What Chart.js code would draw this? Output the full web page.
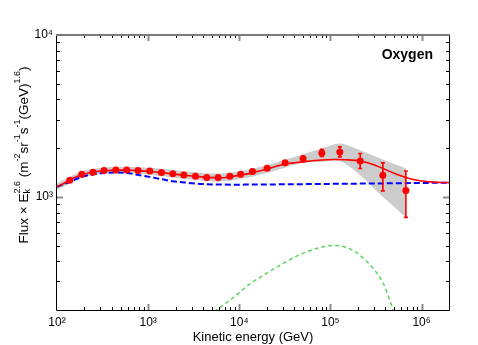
<!DOCTYPE html>
<html><head><meta charset="utf-8">
<script src="https://cdn.jsdelivr.net/npm/chart.js@4/dist/chart.umd.min.js"></script>
<style>html,body{margin:0;padding:0;background:#fff}#wrap{width:478px;height:345px;position:relative}</style>
</head><body><div id="wrap"><canvas id="c"></canvas></div>
<script>
// Measured data points (kinetic energy in GeV, flux x E^2.6)
const energies = [138,187,248,328,441,582,774,1042,1400,1862,2461,3306,4395,5850,7870,10370,13960,20200,31800,50100,80500,126800,212000,376000,673000];
const flux     = [1267,1380,1420,1455,1468,1468,1455,1443,1415,1387,1367,1342,1318,1318,1342,1380,1435,1503,1622,1726,1869,1896,1667,1361,1095];
const fluxErrLow  = [1250,1362,1401,1436,1449,1449,1436,1424,1396,1368,1348,1323,1299,1298,1321,1357,1410,1475,1590,1690,1774,1765,1496,1089,747];
const fluxErrHigh = [1284,1398,1439,1474,1487,1487,1474,1462,1434,1406,1386,1361,1337,1338,1363,1403,1460,1531,1655,1763,1968,2036,1853,1622,1446];

// Total model (red solid)
const modelE     = [100,120,138,160,187,220,250,330,440,580,770,1040,1400,1860,2460,3300,4400,5850,7870,10370,13960,20200,31800,50100,80000,110000,150000,212000,300000,376000,500000,673000,900000,1230000,1600000,2000000];
const modelTotal = [1153,1215,1267,1325,1370,1405,1425,1450,1462,1462,1452,1435,1412,1386,1361,1340,1320,1312,1328,1365,1407,1488,1595,1645,1688,1700,1695,1667,1580,1497,1400,1318,1265,1238,1228,1225];

// Background component (blue dashed)
const bgE    = [100,138,187,250,330,440,580,770,1040,1400,1860,2500,4400,10000,30000,100000,1000000,2000000];
const bgFlux = [1153,1240,1329,1380,1406,1415,1406,1367,1329,1286,1250,1227,1197,1190,1195,1203,1218,1225];

// Extra component (green dashed)
const compE    = [4000,5630,8550,13000,19900,30300,46100,70300,107000,150000,210000,295000,380000,488000,600000];
const compFlux = [173,200,238,289,337,388,439,480,501,487,436,361,292,200,146];

// Uncertainty band (grey)
const bandE    = [100,138,187,250,330,440,580,770,1040,1400,1860,2460,3300,4400,5850,7870,10370,13960,20200,31800,50100,80500,126800,212000,376000,673000];
const bandHigh = [1205,1325,1440,1490,1520,1535,1535,1525,1512,1490,1465,1440,1420,1398,1393,1410,1445,1492,1575,1690,1833,1990,2137,1941,1700,1497];
const bandLow  = [1105,1210,1312,1358,1388,1398,1398,1388,1372,1345,1318,1293,1272,1252,1242,1258,1292,1333,1408,1515,1630,1644,1667,1361,1000,746];

const xTickValues = [1e2,1e3,1e4,1e5,1e6];
const xTickLabels = ['10²','10³','10⁴','10⁵','10⁶'];
const yTickValues = [1e3,1e4];
const yTickLabels = ['10³','10⁴'];
const xTitle = 'Kinetic energy (GeV)';
const panelLabel = 'Oxygen';

const FONT = "'Liberation Sans', Arial, Helvetica, sans-serif";
const pts = (xs, ys) => xs.map((x, i) => ({x: x, y: ys[i]}));

const errorBars = {
  id: 'errorBars',
  afterDatasetsDraw(chart) {
    const ctx = chart.ctx, xs = chart.scales.x, ys = chart.scales.y;
    ctx.save();
    ctx.strokeStyle = '#ff0000';
    ctx.lineWidth = 1.6;
    energies.forEach((e, i) => {
      const px = xs.getPixelForValue(e);
      const y1 = ys.getPixelForValue(fluxErrLow[i]);
      const y2 = ys.getPixelForValue(fluxErrHigh[i]);
      ctx.beginPath();
      ctx.moveTo(px, y1); ctx.lineTo(px, y2);
      ctx.moveTo(px - 2, y1); ctx.lineTo(px + 2, y1);
      ctx.moveTo(px - 2, y2); ctx.lineTo(px + 2, y2);
      ctx.stroke();
    });
    ctx.restore();
  }
};

const frameAndText = {
  id: 'frameAndText',
  afterDraw(chart) {
    const ctx = chart.ctx, a = chart.chartArea, xs = chart.scales.x, ys = chart.scales.y;
    ctx.save();
    for (let d = 2; d <= 6; d++) {
      for (let m = 1; m <= 9; m++) {
        const v = m * Math.pow(10, d);
        if (v <= 100 || v >= 2e6) continue;
        const px = Math.round(xs.getPixelForValue(v)) + 0.5;
        const major = m === 1;
        ctx.strokeStyle = major ? '#8c8c8c' : '#000';
        ctx.lineWidth = major ? 2 : 1;
        const L = major ? 6 : 3;
        ctx.beginPath();
        ctx.moveTo(px, a.bottom); ctx.lineTo(px, a.bottom - L);
        ctx.moveTo(px, a.top); ctx.lineTo(px, a.top + L);
        ctx.stroke();
      }
    }
    for (let d = 2; d <= 3; d++) {
      for (let m = 1; m <= 9; m++) {
        const v = m * Math.pow(10, d);
        if (v <= 200 || v >= 1e4) continue;
        const py = Math.round(ys.getPixelForValue(v)) + 0.5;
        const major = m === 1;
        ctx.strokeStyle = major ? '#8c8c8c' : '#000';
        ctx.lineWidth = major ? 2 : 1;
        const L = major ? 6 : 3;
        ctx.beginPath();
        ctx.moveTo(a.left, py); ctx.lineTo(a.left + L, py);
        ctx.moveTo(a.right, py); ctx.lineTo(a.right - L, py);
        ctx.stroke();
      }
    }
    ctx.strokeStyle = '#000';
    ctx.lineWidth = 1;
    ctx.beginPath();
    ctx.moveTo(Math.round(a.left) - 0.5, Math.round(a.top));
    ctx.lineTo(Math.round(a.left) - 0.5, Math.round(a.bottom) + 0.5);
    ctx.lineTo(Math.round(a.right) + 0.5, Math.round(a.bottom) + 0.5);
    ctx.lineTo(Math.round(a.right) + 0.5, Math.round(a.top));
    ctx.stroke();
    ctx.strokeStyle = '#7a7a7a';
    ctx.lineWidth = 2;
    ctx.beginPath();
    ctx.moveTo(Math.round(a.left) - 1, Math.round(a.top));
    ctx.lineTo(Math.round(a.right) + 1, Math.round(a.top));
    ctx.stroke();
    ctx.fillStyle = '#000';
    ctx.font = 'bold 14px ' + FONT;
    ctx.textAlign = 'right';
    ctx.textBaseline = 'alphabetic';
    ctx.fillText(panelLabel, 433, 59);
    const segs = [
      {t: 'Flux × E', s: 13.5, dy: 0},
      {t: 'k', s: 9, dy: 2, stackWith: '2.6'},
      {t: ' (m', s: 13.5, dy: 0},
      {t: '-2', s: 9, dy: -8},
      {t: 'sr', s: 13.5, dy: 0},
      {t: '-1', s: 9, dy: -8},
      {t: 's', s: 13.5, dy: 0},
      {t: '-1', s: 9, dy: -8},
      {t: '(GeV)', s: 13.5, dy: 0},
      {t: '1.6', s: 9, dy: -8},
      {t: ')', s: 13.5, dy: 0}
    ];
    const w = (t, s) => { ctx.font = s + 'px ' + FONT; return ctx.measureText(t).width; };
    let total = 0;
    segs.forEach(g => {
      let ww = w(g.t, g.s);
      if (g.stackWith) ww = Math.max(ww, w(g.stackWith, 9));
      g.w = ww; total += ww;
    });
    ctx.translate(28, 155);
    ctx.rotate(-Math.PI / 2);
    ctx.textAlign = 'left';
    let x = -total / 2;
    segs.forEach(g => {
      ctx.font = g.s + 'px ' + FONT;
      ctx.fillText(g.t, x, g.dy);
      if (g.stackWith) { ctx.font = '9px ' + FONT; ctx.fillText(g.stackWith, x, -8); }
      x += g.w;
    });
    ctx.restore();
  }
};

new Chart(document.getElementById('c'), {
  type: 'line',
  data: {
    datasets: [
      {type: 'scatter', data: pts(energies, flux), showLine: false, pointRadius: 3.5, pointBackgroundColor: '#ff0000', pointBorderColor: '#ff0000', pointBorderWidth: 0},
      {data: pts(modelE, modelTotal), borderColor: '#ff0000', borderWidth: 1.6, pointRadius: 0, cubicInterpolationMode: 'monotone', fill: false},
      {data: pts(bgE, bgFlux), borderColor: '#0000ff', borderWidth: 2, borderDash: [6, 3], pointRadius: 0, cubicInterpolationMode: 'monotone', fill: false},
      {data: pts(compE, compFlux), borderColor: '#5fd35f', borderWidth: 1.5, borderDash: [4, 3], pointRadius: 0, cubicInterpolationMode: 'monotone', fill: false},
      {data: pts(bandE, bandHigh), borderWidth: 0, borderColor: 'rgba(0,0,0,0)', pointRadius: 0, fill: '+1', backgroundColor: 'rgb(204,204,204)', tension: 0.3},
      {data: pts(bandE, bandLow), borderWidth: 0, borderColor: 'rgba(0,0,0,0)', pointRadius: 0, fill: false, tension: 0.3}
    ]
  },
  options: {
    responsive: true,
    maintainAspectRatio: false,
    animation: false,
    devicePixelRatio: 1,
    layout: {padding: {top: 35, right: 29, bottom: 0, left: 0}},
    plugins: {legend: {display: false}, tooltip: {enabled: false}},
    scales: {
      x: {
        type: 'logarithmic', min: 100, max: 2e6, position: 'bottom',
        grid: {display: false, drawTicks: false},
        border: {display: false},
        afterBuildTicks: s => { s.ticks = xTickValues.map(v => ({value: v})); },
        ticks: {autoSkip: false, maxRotation: 0, color: '#000', padding: 5, font: {family: FONT, size: 12},
          callback: v => { const i = xTickValues.indexOf(v); return i >= 0 ? xTickLabels[i] : ''; }},
        title: {display: true, text: xTitle, color: '#000', font: {family: FONT, size: 13}, padding: {top: 0, bottom: 0}},
        afterFit: s => { s.height = 35; }
      },
      y: {
        type: 'logarithmic', min: 200, max: 1e4, position: 'left',
        grid: {display: false, drawTicks: false},
        border: {display: false},
        afterBuildTicks: s => { s.ticks = yTickValues.map(v => ({value: v})); },
        ticks: {autoSkip: false, color: '#000', padding: 4, font: {family: FONT, size: 12},
          callback: v => { const i = yTickValues.indexOf(v); return i >= 0 ? yTickLabels[i] : ''; }},
        afterFit: s => { s.width = 57; }
      }
    }
  },
  plugins: [errorBars, frameAndText]
});
</script>
</body></html>
